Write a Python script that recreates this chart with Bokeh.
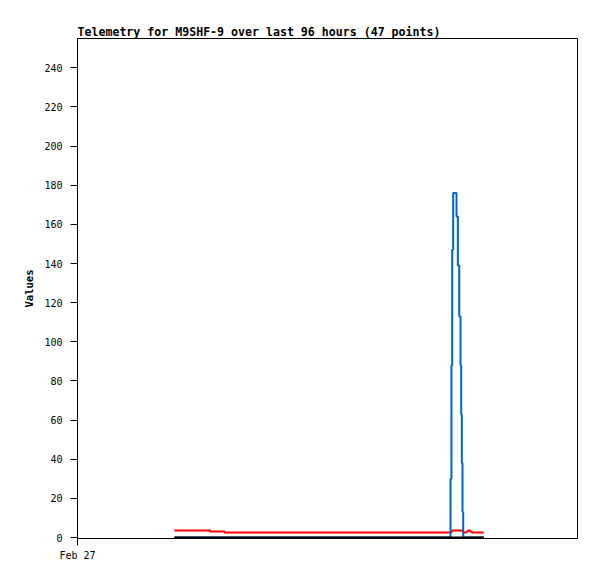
from bokeh.plotting import figure
from bokeh.models import FixedTicker, Range1d
from bokeh.embed import file_html
from bokeh.resources import INLINE

# Time of each reading, hours after Feb 27 00:00 (47 points)
hours = [18.6, 20.4, 22.2, 24.0, 25.5, 27.0, 28.2, 30.0, 31.8, 33.6,
         35.4, 37.2, 39.0, 40.8, 42.6, 44.4, 46.2, 48.0, 49.8, 51.6,
         53.4, 55.2, 57.0, 58.8, 60.6, 62.4, 64.2, 66.0, 67.8, 69.6,
         71.62, 71.8, 71.94, 72.13, 72.77, 73.02, 73.29, 73.54, 73.67, 73.79,
         73.92, 74.06, 74.7, 74.9, 75.4, 75.7, 78.0]

blue_values = [0, 0, 0, 0, 0, 0, 0, 0, 0, 0,
               0, 0, 0, 0, 0, 0, 0, 0, 0, 0,
               0, 0, 0, 0, 0, 0, 0, 0, 0, 0,
               30, 88, 147, 176, 164, 139, 113, 88, 63, 38,
               13, 0, 0, 0, 0, 0, 0]

red_values = [3.6, 3.6, 3.6, 3.6, 3.1, 3.1, 2.6, 2.6, 2.6, 2.6,
              2.6, 2.6, 2.6, 2.6, 2.6, 2.6, 2.6, 2.6, 2.6, 2.6,
              2.6, 2.6, 2.6, 2.6, 2.6, 2.6, 2.6, 2.6, 2.6, 2.6,
              2.6, 3.1, 3.6, 3.6, 3.6, 3.6, 3.6, 3.6, 3.6, 3.6,
              3.6, 2.6, 3.1, 3.6, 3.1, 2.6, 2.6]

black_values = [0] * 47

y_ticks = [0, 20, 40, 60, 80, 100, 120, 140, 160, 180, 200, 220, 240]
x_ticks = [0]
x_tick_labels = ["Feb 27"]

MONO = "DejaVu Sans Mono"

p = figure(frame_width=500, frame_height=500,
           x_range=Range1d(0, 96), y_range=Range1d(-0.5, 255.0),
           output_backend="svg", toolbar_location=None,
           min_border_left=77, min_border_top=38,
           min_border_right=10, min_border_bottom=30,
           background_fill_color="white", border_fill_color="white")

p.title.text = "Telemetry for M9SHF-9 over last 96 hours (47 points)"
p.title.text_font = MONO
p.title.text_font_style = "bold"
p.title.text_font_size = "11.6px"
p.title.text_color = "black"
p.title.align = "left"
p.title.vertical_align = "bottom"
p.title.offset = 0
p.title.standoff = 0

p.outline_line_color = "black"
p.outline_line_width = 1
p.grid.visible = False

p.xaxis.ticker = FixedTicker(ticks=x_ticks)
p.xaxis.major_label_overrides = dict(zip(x_ticks, x_tick_labels))
p.yaxis.ticker = FixedTicker(ticks=y_ticks)

for ax in (p.xaxis, p.yaxis):
    ax.axis_line_color = "black"
    ax.major_tick_line_color = "black"
    ax.major_tick_out = 7
    ax.major_tick_in = 0
    ax.minor_tick_line_color = None
    ax.major_label_text_font = MONO
    ax.major_label_text_font_size = "10px"
    ax.major_label_text_color = "black"

p.xaxis.major_label_standoff = 4
p.yaxis.major_label_standoff = 8

p.yaxis.axis_label = "Values"
p.yaxis.axis_label_text_font = MONO
p.yaxis.axis_label_text_font_style = "bold"
p.yaxis.axis_label_text_font_size = "10.5px"
p.yaxis.axis_label_text_color = "black"
p.yaxis.axis_label_standoff = 6

p.step(hours, red_values, mode="after", line_color="#FF0000", line_width=2)
p.step(hours, blue_values, mode="after", line_color="#0066CC", line_width=2)
p.step(hours, black_values, mode="after", line_color="black", line_width=2)

open("out.html", "w").write(file_html(p, INLINE))
